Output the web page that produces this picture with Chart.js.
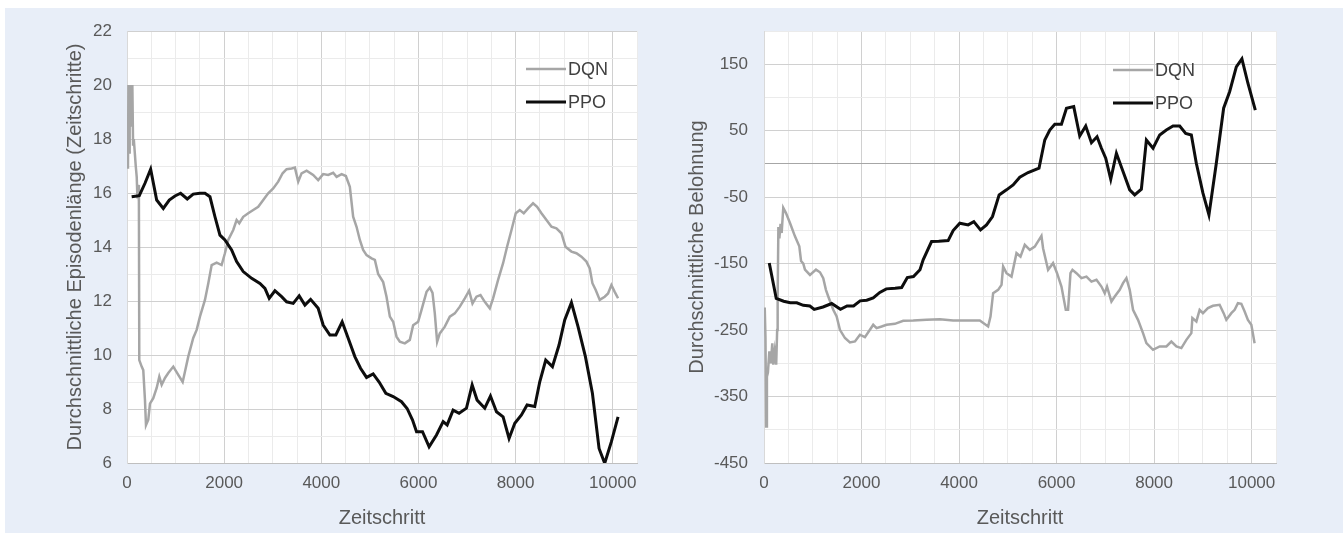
<!DOCTYPE html>
<html>
<head>
<meta charset="utf-8">
<script src="https://cdn.jsdelivr.net/npm/chart.js@4.4.1/dist/chart.umd.min.js"></script>
<style>
  html, body { margin: 0; padding: 0; background: #fff; }
  #panel { position: absolute; left: 5px; top: 8px; width: 1338px; height: 525px; background: #e8eef8; }
  .box { position: absolute; top: 0; height: 533px; }
  #leftBox { left: 0; width: 672px; }
  #rightBox { left: 672px; width: 671px; }
</style>
</head>
<body>
<div id="panel"></div>
<div class="box" id="leftBox"><canvas id="lengthChart"></canvas></div>
<div class="box" id="rightBox"><canvas id="rewardChart"></canvas></div>
<script>
// --- Durchschnittliche Episodenlänge ---
const lenDqnSteps = [10, 20, 30, 45, 55, 70, 80, 95, 110, 125, 140, 160, 180, 200, 215, 230, 245, 253, 302, 335, 370, 391, 438, 473, 541, 611, 665, 714, 782, 850, 953, 1056, 1146, 1193, 1261, 1364, 1434, 1502, 1605, 1673, 1743, 1845, 1948, 2016, 2084, 2187, 2257, 2311, 2393, 2496, 2599, 2702, 2805, 2907, 3010, 3113, 3204, 3286, 3389, 3457, 3525, 3594, 3698, 3833, 3936, 4039, 4142, 4245, 4315, 4418, 4506, 4588, 4656, 4726, 4794, 4862, 4932, 5035, 5103, 5171, 5274, 5343, 5412, 5480, 5549, 5617, 5720, 5823, 5891, 5994, 6064, 6167, 6235, 6290, 6337, 6385, 6440, 6543, 6646, 6749, 6852, 6955, 7043, 7113, 7195, 7278, 7366, 7469, 7537, 7640, 7743, 7825, 7916, 8004, 8086, 8169, 8257, 8360, 8443, 8533, 8636, 8739, 8841, 8944, 9027, 9150, 9253, 9356, 9459, 9527, 9582, 9650, 9733, 9835, 9904, 9973, 10041, 10110];
const lenDqn = [17.2, 16.9, 20.0, 17.5, 20.0, 18.5, 20.0, 19.0, 20.0, 17.8, 18.0, 17.5, 17.0, 16.6, 15.8, 16.3, 15.7, 9.81, 9.57, 9.44, 8.33, 7.4, 7.6, 8.2, 8.4, 8.78, 9.2, 8.9, 9.15, 9.33, 9.57, 9.26, 9.0, 9.38, 9.94, 10.63, 10.93, 11.42, 12.04, 12.65, 13.33, 13.42, 13.33, 13.77, 14.26, 14.63, 15.0, 14.88, 15.12, 15.25, 15.37, 15.49, 15.74, 15.99, 16.17, 16.42, 16.73, 16.88, 16.91, 16.94, 16.42, 16.73, 16.83, 16.67, 16.48, 16.7, 16.67, 16.75, 16.6, 16.7, 16.63, 16.23, 15.12, 14.75, 14.26, 13.89, 13.7, 13.58, 13.52, 13.0, 12.7, 12.16, 11.42, 11.23, 10.68, 10.49, 10.43, 10.56, 11.1, 11.23, 11.67, 12.34, 12.5, 12.3, 11.54, 10.49, 10.8, 11.05, 11.42, 11.54, 11.79, 12.1, 12.38, 11.91, 12.16, 12.22, 11.97, 11.73, 12.1, 12.78, 13.4, 14.01, 14.63, 15.25, 15.37, 15.25, 15.43, 15.62, 15.49, 15.25, 15.0, 14.75, 14.69, 14.51, 14.01, 13.83, 13.77, 13.64, 13.46, 13.21, 12.66, 12.41, 12.04, 12.16, 12.28, 12.59, 12.34, 12.1];

const lenPpoSteps = [96, 253, 370, 487, 611, 747, 870, 988, 1104, 1241, 1364, 1502, 1605, 1708, 1811, 1914, 2016, 2154, 2257, 2393, 2566, 2737, 2840, 2928, 3045, 3183, 3286, 3422, 3545, 3663, 3780, 3936, 4039, 4177, 4300, 4430, 4554, 4691, 4808, 4932, 5068, 5191, 5329, 5480, 5652, 5767, 5879, 5961, 6084, 6220, 6372, 6509, 6591, 6714, 6837, 6989, 7106, 7208, 7366, 7483, 7607, 7743, 7866, 7984, 8121, 8237, 8395, 8498, 8621, 8759, 8895, 9012, 9150, 9286, 9438, 9582, 9719, 9835, 9973, 10110];
const lenPpo = [15.86, 15.9, 16.36, 16.88, 15.74, 15.43, 15.74, 15.89, 15.99, 15.78, 15.96, 15.99, 15.99, 15.86, 15.12, 14.44, 14.26, 13.89, 13.46, 13.09, 12.84, 12.65, 12.47, 12.1, 12.38, 12.16, 11.97, 11.91, 12.19, 11.85, 12.06, 11.73, 11.11, 10.74, 10.74, 11.23, 10.62, 9.94, 9.51, 9.17, 9.3, 9.0, 8.58, 8.46, 8.27, 8.02, 7.59, 7.16, 7.16, 6.6, 7.04, 7.53, 7.41, 7.96, 7.84, 8.03, 8.89, 8.33, 8.03, 8.48, 7.9, 7.71, 6.91, 7.47, 7.78, 8.15, 8.09, 9.01, 9.81, 9.57, 10.37, 11.3, 11.94, 11.05, 9.94, 8.58, 6.54, 5.99, 6.79, 7.71];

// --- Durchschnittliche Belohnung ---
const rewDqnSteps = [15, 30, 45, 60, 80, 110, 140, 170, 191, 220, 250, 270, 280, 295, 315, 340, 362, 395, 451, 533, 635, 724, 760, 806, 840, 943, 1066, 1148, 1215, 1270, 1318, 1420, 1490, 1557, 1660, 1762, 1865, 1967, 2070, 2172, 2240, 2309, 2412, 2514, 2684, 2855, 3060, 3333, 3607, 3879, 4153, 4426, 4596, 4645, 4699, 4801, 4871, 4904, 4973, 5076, 5178, 5260, 5348, 5451, 5553, 5690, 5723, 5826, 5928, 6010, 6100, 6189, 6236, 6285, 6326, 6408, 6510, 6613, 6715, 6818, 6920, 6988, 7035, 7125, 7193, 7295, 7363, 7432, 7500, 7568, 7670, 7773, 7842, 7978, 8115, 8252, 8354, 8457, 8559, 8662, 8764, 8785, 8867, 8934, 9002, 9104, 9207, 9344, 9426, 9481, 9584, 9652, 9719, 9789, 9857, 9924, 9994, 10061];
const rewDqn = [-216, -260, -395, -320, -314, -282, -300, -270, -302, -282, -302, -250, -200, -95, -112, -90, -104, -66, -74, -89, -109, -124, -146, -150, -159, -167, -159, -163, -172, -189.5, -199.5, -219.5, -229.6, -249.6, -262, -268.7, -267, -257, -260.6, -249.6, -242, -247, -244.6, -242, -240.6, -236, -235.6, -234.6, -233.6, -235.6, -235.6, -235.6, -244.6, -229.6, -194.5, -189.5, -182, -154.4, -164.4, -169.5, -134.3, -139.4, -121.8, -129.3, -124.4, -108.3, -126.8, -159.4, -149.3, -164.4, -184.5, -219.5, -219.5, -164.4, -159.4, -164.4, -171.9, -169.5, -177, -174.4, -184.5, -194.5, -184.5, -207, -199.5, -189.5, -179.4, -171.9, -189.5, -219.5, -234.6, -254.6, -269.7, -279.7, -274.7, -274.7, -267.2, -274.7, -277.1, -264.7, -254.6, -232, -237, -219.5, -224.5, -217, -213.5, -212, -224.5, -234.6, -224.5, -219.5, -209.5, -210.5, -222, -234.6, -242, -269.7];

const rewPpoSteps = [108, 251, 403, 538, 672, 806, 941, 1030, 1210, 1389, 1568, 1703, 1837, 1971, 2106, 2240, 2375, 2509, 2688, 2823, 2939, 3065, 3199, 3264, 3436, 3584, 3776, 3879, 4016, 4187, 4303, 4440, 4563, 4686, 4822, 4973, 5109, 5246, 5416, 5640, 5758, 5861, 5963, 6100, 6203, 6352, 6475, 6598, 6715, 6830, 6920, 7008, 7111, 7227, 7363, 7500, 7602, 7739, 7842, 7978, 8115, 8251, 8388, 8525, 8648, 8764, 8866, 9002, 9125, 9276, 9426, 9549, 9686, 9801, 9924, 10076];
const rewPpo = [-149, -202.5, -206.6, -209, -209, -212.7, -213.7, -218.8, -215.3, -210, -218.8, -213.7, -213.7, -206, -205, -201.5, -193.3, -188, -187, -186, -171, -169.4, -159.2, -144.4, -116.8, -116.5, -115.3, -100.3, -89.2, -91.7, -86.8, -99.2, -91.7, -79.2, -46.6, -39, -31.6, -20, -13, -6.5, 36, 51, 59.7, 59.7, 83.8, 86.2, 42, 57, 32, 41, 23.6, 8.6, -23, 16, -11.5, -39, -46.6, -38, 36, 23.6, 43.6, 51, 57, 57, 46, 43.6, 1, -44, -76.7, 1, 83.8, 108.7, 146, 158, 121.4, 81];

const FONT = "'Liberation Sans', Arial, sans-serif";
const TEXT = '#595959';
const MAJOR = '#d0d0d0';
const MINOR = '#ebebeb';

function toPoints(xs, ys) {
    return xs.map((x, i) => ({ x: x, y: ys[i] }));
}

const plotBackground = {
    id: 'plotBackground',
    beforeDraw(chart) {
        const { ctx, chartArea: a } = chart;
        ctx.save();
        ctx.fillStyle = '#ffffff';
        ctx.fillRect(a.left, a.top, a.width, a.height);
        ctx.restore();
    }
};

// legend sits inside the plot area, top right, like the original
const insideLegend = {
    id: 'insideLegend',
    afterDatasetsDraw(chart, args, opts) {
        const { ctx, chartArea: a } = chart;
        const x0 = a.right - opts.right;
        ctx.save();
        ctx.font = '18px ' + FONT;
        ctx.textBaseline = 'middle';
        chart.data.datasets.forEach((ds, i) => {
            const y = a.top + opts.top + i * opts.gap;
            ctx.strokeStyle = ds.borderColor;
            ctx.lineWidth = ds.borderWidth;
            ctx.beginPath();
            ctx.moveTo(x0, y);
            ctx.lineTo(x0 + 40, y);
            ctx.stroke();
            ctx.fillStyle = '#404040';
            ctx.fillText(ds.label, x0 + 42, y + 1);
        });
        ctx.restore();
    }
};

const xAxis = () => ({
    type: 'linear',
    min: 0,
    max: 10500,
    border: { display: true, color: '#bfbfbf' },
    grid: {
        drawTicks: false,
        color: c => (c.tick.value % 2000 === 0 && c.tick.value < 10500) ? MAJOR : MINOR,
    },
    ticks: {
        stepSize: 500,
        autoSkip: false,
        maxRotation: 0,
        padding: 10,
        color: TEXT,
        font: { family: FONT, size: 17 },
        callback: v => (v % 2000 === 0 ? v : ''),
    },
    title: {
        display: true,
        text: 'Zeitschritt',
        color: TEXT,
        font: { family: FONT, size: 20 },
        padding: { top: 0, bottom: 3 },
    },
    afterFit: s => { s.height = 70; },
});

const makeDatasets = (dqn, ppo) => ([
    {
        label: 'DQN',
        data: dqn,
        borderColor: '#a6a6a6',
        borderWidth: 2.5,
        pointRadius: 0,
        tension: 0,
        order: 1,
    },
    {
        label: 'PPO',
        data: ppo,
        borderColor: '#0d0d0d',
        borderWidth: 3,
        pointRadius: 0,
        tension: 0,
        order: 0,
    },
]);

new Chart(document.getElementById('lengthChart'), {
    type: 'line',
    data: { datasets: makeDatasets(toPoints(lenDqnSteps, lenDqn), toPoints(lenPpoSteps, lenPpo)) },
    options: {
        responsive: true,
        maintainAspectRatio: false,
        animation: false,
        layout: { padding: { left: 0, right: 35, top: 31, bottom: 0 } },
        scales: {
            x: xAxis(),
            y: {
                min: 6,
                max: 22,
                border: { display: true, color: '#d9d9d9' },
                grid: {
                    drawTicks: false,
                    color: c => (c.tick.value % 2 === 0 ? MAJOR : MINOR),
                },
                ticks: {
                    stepSize: 1,
                    autoSkip: false,
                    padding: 15,
                    color: TEXT,
                    font: { family: FONT, size: 17 },
                    callback: v => (v % 2 === 0 ? v : ''),
                },
                title: {
                    display: true,
                    text: 'Durchschnittliche Episodenlänge (Zeitschritte)',
                    color: TEXT,
                    font: { family: FONT, size: 20 },
                    padding: { top: 63, bottom: 0 },
                },
                afterFit: s => { s.width = 127; },
            },
        },
        plugins: {
            legend: { display: false },
            tooltip: { enabled: false },
            insideLegend: { right: 111, top: 38, gap: 33 },
        },
    },
    plugins: [plotBackground, insideLegend],
});

new Chart(document.getElementById('rewardChart'), {
    type: 'line',
    data: { datasets: makeDatasets(toPoints(rewDqnSteps, rewDqn), toPoints(rewPpoSteps, rewPpo)) },
    options: {
        responsive: true,
        maintainAspectRatio: false,
        animation: false,
        layout: { padding: { left: 0, right: 67, top: 31, bottom: 0 } },
        scales: {
            x: xAxis(),
            y: {
                min: -450,
                max: 200,
                border: { display: true, color: '#d9d9d9' },
                grid: {
                    drawTicks: false,
                    color: c => {
                        const v = c.tick.value;
                        if (v === 0) return '#a6a6a6';
                        return ((v + 450) % 100 === 0 && v < 200) ? MAJOR : MINOR;
                    },
                },
                ticks: {
                    stepSize: 50,
                    autoSkip: false,
                    padding: 16,
                    color: TEXT,
                    font: { family: FONT, size: 17 },
                    callback: v => (((v + 450) % 100 === 0 && v < 200) ? v : ''),
                },
                title: {
                    display: true,
                    text: 'Durchschnittliche Belohnung',
                    color: TEXT,
                    font: { family: FONT, size: 20 },
                    padding: { top: 13, bottom: 0 },
                },
                afterFit: s => { s.width = 92; },
            },
        },
        plugins: {
            legend: { display: false },
            tooltip: { enabled: false },
            insideLegend: { right: 163, top: 39, gap: 33 },
        },
    },
    plugins: [plotBackground, insideLegend],
});
</script>
</body>
</html>
